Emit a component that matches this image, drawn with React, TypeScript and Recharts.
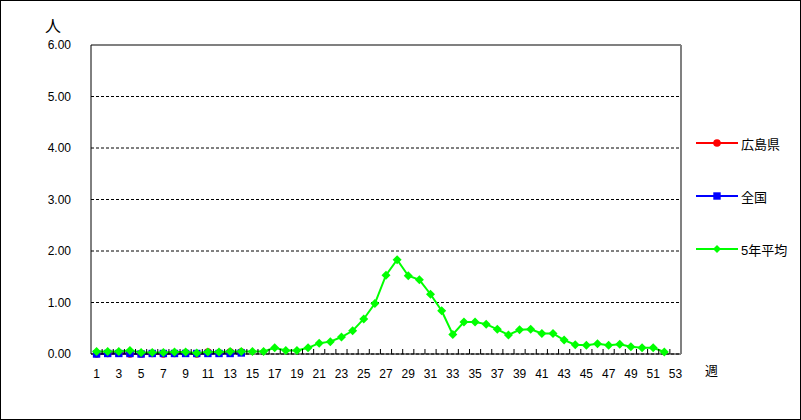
import { LineChart, Line, XAxis, YAxis, CartesianGrid } from 'recharts';

const weeks = [
  '1', '2', '3', '4', '5', '6', '7', '8', '9', '10',
  '11', '12', '13', '14', '15', '16', '17', '18', '19', '20',
  '21', '22', '23', '24', '25', '26', '27', '28', '29', '30',
  '31', '32', '33', '34', '35', '36', '37', '38', '39', '40',
  '41', '42', '43', '44', '45', '46', '47', '48', '49', '50',
  '51', '52', '53',
];

// 広島県 (週1〜14)
const hiroshima = [0.0, 0.01, 0.02, 0.0, 0.0, 0.01, 0.0, 0.01, 0.02, 0.0, 0.04, 0.02, 0.04, 0.04];
// 全国 (週1〜14)
const zenkoku = [0.0, 0.01, 0.01, 0.01, 0.0, 0.01, 0.01, 0.01, 0.01, 0.01, 0.01, 0.01, 0.01, 0.02];
// 5年平均 (週1〜52)
const avg5 = [
  0.05, 0.05, 0.05, 0.07, 0.03, 0.03, 0.03, 0.04, 0.04, 0.02,
  0.04, 0.04, 0.05, 0.05, 0.05, 0.05, 0.12, 0.07, 0.07, 0.12,
  0.21, 0.24, 0.33, 0.45, 0.68, 0.98, 1.53, 1.83, 1.52, 1.44,
  1.16, 0.84, 0.38, 0.62, 0.62, 0.58, 0.48, 0.37, 0.47, 0.48,
  0.4, 0.4, 0.27, 0.18, 0.17, 0.2, 0.17, 0.19, 0.14, 0.12,
  0.12, 0.04,
];

const yTicks = [0, 1, 2, 3, 4, 5, 6];

const data = weeks.map((w, i) => ({
  week: w,
  hiroshima: i < hiroshima.length ? hiroshima[i] : null,
  zenkoku: i < zenkoku.length ? zenkoku[i] : null,
  avg5: i < avg5.length ? avg5[i] : null,
}));

const W = 801;
const H = 420;
const PLOT_LEFT = 91;
const PLOT_RIGHT = 681;
const STEP = (PLOT_RIGHT - PLOT_LEFT) / weeks.length;
const FONT = "'Liberation Sans', 'Noto Sans CJK JP', sans-serif";

const RED = '#ff0000';
const BLUE = '#0000ff';
const GREEN = '#00ff00';

const CircleDot = (p: any) =>
  p.cy == null ? null : <circle key={p.key} cx={p.cx} cy={p.cy} r={3.8} fill={RED} />;
const SquareDot = (p: any) =>
  p.cy == null ? null : <rect key={p.key} x={p.cx - 3.7} y={p.cy - 3.7} width={7.4} height={7.4} fill={BLUE} />;
const DiamondDot = (p: any) =>
  p.cy == null ? null : (
    <polygon
      key={p.key}
      points={`${p.cx},${p.cy - 4.5} ${p.cx + 4.5},${p.cy} ${p.cx},${p.cy + 4.5} ${p.cx - 4.5},${p.cy}`}
      fill={GREEN}
    />
  );

const WeekTick = (p: any) => {
  const bx = p.x - STEP / 2;
  return (
    <g>
      {p.index > 0 && <line x1={bx} x2={bx} y1={p.y} y2={p.y - 5} stroke="#000" />}
      {p.index % 2 === 0 && (
        <text x={p.x} y={p.y + 24} textAnchor="middle" fontSize={12} fill="#000" fontFamily={FONT}>
          {p.payload.value}
        </text>
      )}
    </g>
  );
};

const legendItems = [
  { label: '広島県', color: RED, shape: 'circle' },
  { label: '全国', color: BLUE, shape: 'square' },
  { label: '5年平均', color: GREEN, shape: 'diamond' },
];

function LegendMark({ color, shape }: { color: string; shape: string }) {
  return (
    <svg width={42} height={10} style={{ display: 'block' }}>
      <line x1={0} x2={42} y1={5} y2={5} stroke={color} strokeWidth={2} />
      {shape === 'circle' && <circle cx={21} cy={5} r={3.8} fill={color} />}
      {shape === 'square' && <rect x={17.3} y={1.3} width={7.4} height={7.4} fill={color} />}
      {shape === 'diamond' && <polygon points="21,1 25,5 21,9 17,5" fill={color} />}
    </svg>
  );
}

export default function App() {
  return (
    <div style={{ position: 'absolute', left: 0, top: 0, width: W, height: H, background: '#fff', fontFamily: FONT }}>
      <LineChart width={W} height={H} data={data} margin={{ top: 44, right: 119, bottom: 36, left: 31 }}>
        <CartesianGrid vertical={false} stroke="#000" strokeDasharray="3 2" />
        <XAxis
          dataKey="week"
          interval={0}
          padding={{ left: STEP / 2, right: STEP / 2 }}
          height={30}
          tickSize={0}
          tickMargin={0}
          tick={<WeekTick />}
          axisLine={{ stroke: '#000' }}
        />
        <XAxis
          xAxisId="top"
          dataKey="week"
          orientation="top"
          height={1}
          tick={false}
          tickLine={false}
          axisLine={{ stroke: '#808080', strokeWidth: 2 }}
        />
        <YAxis
          domain={[0, 6]}
          ticks={yTicks}
          interval={0}
          width={60}
          tickLine={false}
          tickSize={0}
          tickMargin={20}
          tickFormatter={(v: number) => v.toFixed(2)}
          tick={{ fill: '#000', fontSize: 12, fontFamily: FONT }}
          axisLine={{ stroke: '#000' }}
        />
        <YAxis
          yAxisId="right"
          orientation="right"
          domain={[0, 6]}
          width={1}
          tick={false}
          tickLine={false}
          axisLine={{ stroke: '#808080', strokeWidth: 2 }}
        />
        <Line dataKey="hiroshima" stroke={RED} strokeWidth={2} dot={<CircleDot />} isAnimationActive={false} connectNulls={false} />
        <Line dataKey="zenkoku" stroke={BLUE} strokeWidth={2} dot={<SquareDot />} isAnimationActive={false} connectNulls={false} />
        <Line dataKey="avg5" stroke={GREEN} strokeWidth={2} dot={<DiamondDot />} isAnimationActive={false} connectNulls={false} />
      </LineChart>

      <div style={{ position: 'absolute', left: 45, top: 18, fontSize: 16, lineHeight: '17px' }}>人</div>
      <div style={{ position: 'absolute', left: 705, top: 364, fontSize: 13, lineHeight: '14px' }}>週</div>

      {legendItems.map((it, i) => (
        <div
          key={it.label}
          style={{ position: 'absolute', left: 696, top: 135 + i * 53, display: 'flex', alignItems: 'center', height: 16, fontSize: 13 }}
        >
          <LegendMark color={it.color} shape={it.shape} />
          <span style={{ marginLeft: 3 }}>{it.label}</span>
        </div>
      ))}

      <div style={{ position: 'absolute', inset: 0, border: '1px solid #000', pointerEvents: 'none' }} />
    </div>
  );
}
